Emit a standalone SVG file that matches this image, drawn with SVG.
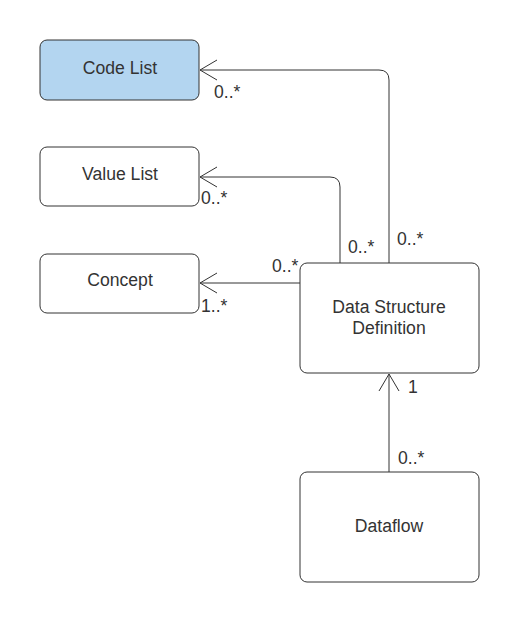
<svg xmlns="http://www.w3.org/2000/svg" width="520" height="624" viewBox="0 0 520 624">
<style>
.n{fill:#fff;stroke:#333;stroke-width:1}
.c{fill:none;stroke:#333;stroke-width:1}
.t{font-family:"Liberation Sans",Arial,sans-serif;font-size:17.6px;fill:#333;text-anchor:middle}
.l{font-family:"Liberation Sans",Arial,sans-serif;font-size:17.6px;fill:#333}
</style>
<defs>
<marker id="open" viewBox="-19 -12 21 24" refX="0" refY="0" markerWidth="21" markerHeight="24" markerUnits="userSpaceOnUse" orient="auto">
<path d="M-17,-10 L0,0 L-17,10" fill="none" stroke="#333" stroke-width="1"/>
</marker>
</defs>
<rect width="520" height="624" fill="#fff"/>
<g id="code-list"><rect x="40" y="40" width="159" height="60" rx="7" fill="#b3d5f0" stroke="#333"/><text class="t" x="120" y="74">Code List</text></g>
<g id="value-list"><rect class="n" x="40" y="147" width="159" height="59" rx="7"/><text class="t" x="120" y="180">Value List</text></g>
<g id="concept"><rect class="n" x="40" y="254" width="159" height="59" rx="7"/><text class="t" x="120" y="286">Concept</text></g>
<g id="dsd"><rect class="n" x="300" y="263" width="179" height="110" rx="7"/><text class="t" x="389" y="313">Data Structure</text><text class="t" x="389" y="334">Definition</text></g>
<g id="dataflow"><rect class="n" x="300" y="472" width="179" height="110" rx="7"/><text class="t" x="389" y="532">Dataflow</text></g>
<g id="connectors">
<path class="c" d="M389,263 V80 Q389,70 379,70 H200" marker-end="url(#open)"/>
<path class="c" d="M340,263 V187 Q340,177 330,177 H200" marker-end="url(#open)"/>
<path class="c" d="M300,283 H200" marker-end="url(#open)"/>
<path class="c" d="M389,472 V374" marker-end="url(#open)"/>
</g>
<g id="labels">
<text class="l" x="214" y="98">0..*</text>
<text class="l" x="201" y="204">0..*</text>
<text class="l" x="348" y="253">0..*</text>
<text class="l" x="397" y="245">0..*</text>
<text class="l" x="272" y="272">0..*</text>
<text class="l" x="201" y="312">1..*</text>
<text class="l" x="408" y="393">1</text>
<text class="l" x="398" y="464">0..*</text>
</g>
</svg>
